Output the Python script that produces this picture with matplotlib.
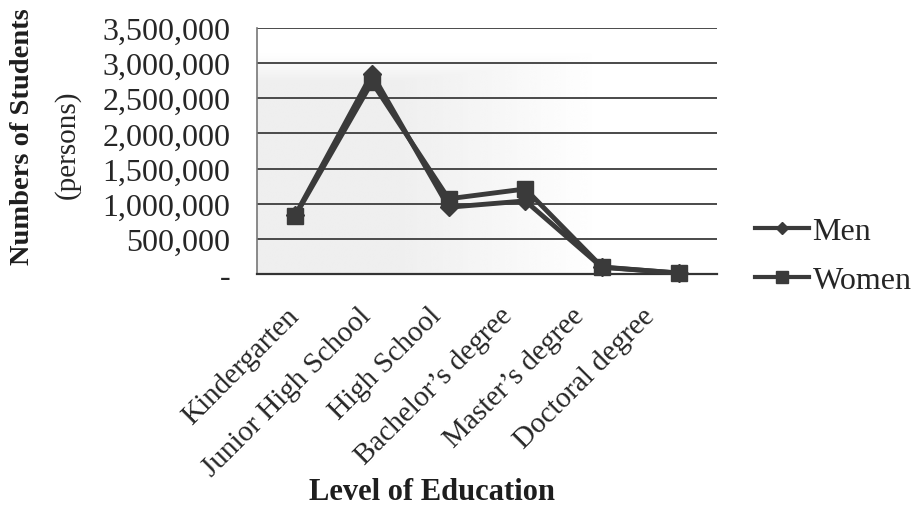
import matplotlib
matplotlib.use("Agg")
import matplotlib.pyplot as plt
import matplotlib.transforms as mtransforms
from matplotlib.ticker import FuncFormatter
from matplotlib.lines import Line2D
import numpy as np

levels = ["Kindergarten", "Junior High School", "High School",
          "Bachelor\u2019s degree", "Master\u2019s degree", "Doctoral degree"]
men = [840000, 2850000, 950000, 1040000, 95000, 15000]
women = [830000, 2730000, 1070000, 1210000, 100000, 12000]
y_ticks = [0, 500000, 1000000, 1500000, 2000000, 2500000, 3000000, 3500000]

plt.rcParams["font.family"] = ["Liberation Serif", "DejaVu Serif"]
INK = "#262626"
LINE = "#3a3a3a"

fig = plt.figure(figsize=(9.16, 5.06), dpi=100)
ax = fig.add_axes([257 / 916, 1 - 275 / 506, 460 / 916, 246 / 506])

# pale grey wash in the lower-left of the plot area, fading to white
gx, gy = np.meshgrid(np.linspace(0, 1, 300), np.linspace(0, 1, 200))
fade = np.clip(np.maximum((gx - 0.3) / 0.45, (gy - 0.78) / 0.12), 0, 1)
wash = 0.935 + 0.065 * fade
ax.imshow(wash, extent=[0, 1, 0, 1], origin="lower", transform=ax.transAxes, aspect="auto",
          cmap="gray", vmin=0, vmax=1, zorder=0, interpolation="bicubic")

x = np.arange(len(levels))
ax.plot(x, men, color=LINE, lw=3.5, marker="D", markersize=9,
        markerfacecolor=LINE, markeredgecolor=LINE, zorder=3, clip_on=False)
ax.plot(x, women, color=LINE, lw=3.5, marker="s", markersize=12,
        markerfacecolor=LINE, markeredgecolor=LINE, zorder=4, clip_on=False)

ax.set_xlim(-0.5, len(levels) - 0.5)
ax.set_ylim(0, 3500000)
ax.set_yticks(y_ticks)
ax.yaxis.set_major_formatter(FuncFormatter(lambda v, p: "-" if v == 0 else f"{int(v):,}"))
ax.grid(axis="y", color="#4a4a4a", lw=1.4, zorder=1)
ax.set_axisbelow(True)
for s in ("top", "right"):
    ax.spines[s].set_visible(False)
ax.spines["left"].set_color("#777777")
ax.spines["left"].set_linewidth(1.2)
ax.spines["bottom"].set_color("#333333")
ax.spines["bottom"].set_linewidth(1.6)

ax.tick_params(axis="y", length=0, pad=19, labelsize=23, labelcolor=INK)
ax.tick_params(axis="x", length=0, pad=27, labelsize=21, labelcolor=INK)
ax.set_xticks(x)
ax.set_xticklabels(levels, rotation=45, ha="right", va="center", rotation_mode="anchor")
for i, lab in enumerate(ax.get_xticklabels()):
    lab.set_transform(lab.get_transform() +
                      mtransforms.ScaledTranslation(-(i * 5.5) / 100, 0, fig.dpi_scale_trans))

fig.text(23 / 916, 1 - 137 / 506, "Numbers of Students", rotation=90, ha="center", va="center",
         fontsize=20.5, fontweight="bold", color="#1e1e1e")
fig.text(67 / 916, 1 - 145 / 506, "(persons)", rotation=90, ha="center", va="center",
         fontsize=21, color=INK)
fig.text(432 / 916, 1 - 493 / 506, "Level of Education", ha="center", va="center",
         fontsize=22, fontweight="bold", color="#1e1e1e")

handles = [
    Line2D([], [], color=LINE, lw=3, marker="D", markersize=6),
    Line2D([], [], color=LINE, lw=3, marker="s", markersize=9),
]
fig.legend(handles, ["Men", "Women"], loc="center left",
           bbox_to_anchor=(755 / 916, 1 - 257 / 506), frameon=False, fontsize=23,
           handlelength=1.7, handletextpad=0.1, labelspacing=0.6, borderpad=0,
           borderaxespad=0, labelcolor=INK)

fig.savefig("out.png", dpi=100, facecolor="white")
